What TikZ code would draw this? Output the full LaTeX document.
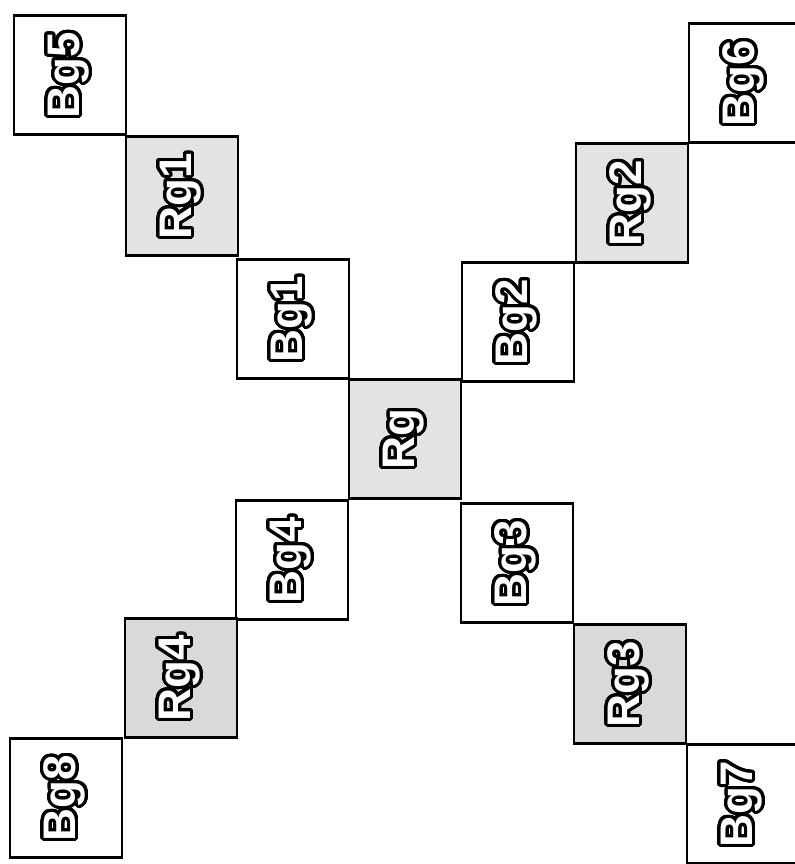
\documentclass[tikz,border=0pt]{standalone}
\usepackage{fontspec}
\setmainfont{Liberation Sans}
\usepackage{contour}
\contourlength{2.6pt}
\contournumber{40}
\newcommand{\lbl}[1]{\contour{black}{\textcolor{white}{#1}}}
\begin{document}
\begin{tikzpicture}[x=0.03cm,y=-0.03cm,
  bg/.style={draw,line width=1.8pt,fill=white,rotate=90,minimum width=3.57cm,minimum height=3.36cm,inner sep=0pt,font=\bfseries\fontsize{39}{39}\selectfont},
  rg/.style={bg,fill=gray!22}]
\useasboundingbox(0,0)rectangle(795,864);
% upper left arm
\node[bg](bgfive)at(70,75){\lbl{Bg5}};
\node[rg](rgone)at(182,196){\lbl{Rg1}};
\node[bg](bgone)at(293,319){\lbl{Bg1}};
% centre
\node[rg](rg)at(405,439){\lbl{Rg}};
% upper right arm
\node[bg](bgtwo)at(518,322){\lbl{Bg2}};
\node[rg](rgtwo)at(632,203){\lbl{Rg2}};
\node[bg](bgsix)at(745,83){\lbl{Bg6}};
% lower left arm
\node[bg](bgfour)at(292,560){\lbl{Bg4}};
\node[rg,fill=gray!30](rgfour)at(181,678){\lbl{Rg4}};
\node[bg](bgeight)at(66,798){\lbl{Bg8}};
% lower right arm
\node[bg](bgthree)at(517,563){\lbl{Bg3}};
\node[rg,fill=gray!30](rgthree)at(630,684){\lbl{Rg3}};
\node[bg](bgseven)at(743,804){\lbl{Bg7}};
\end{tikzpicture}
\end{document}
